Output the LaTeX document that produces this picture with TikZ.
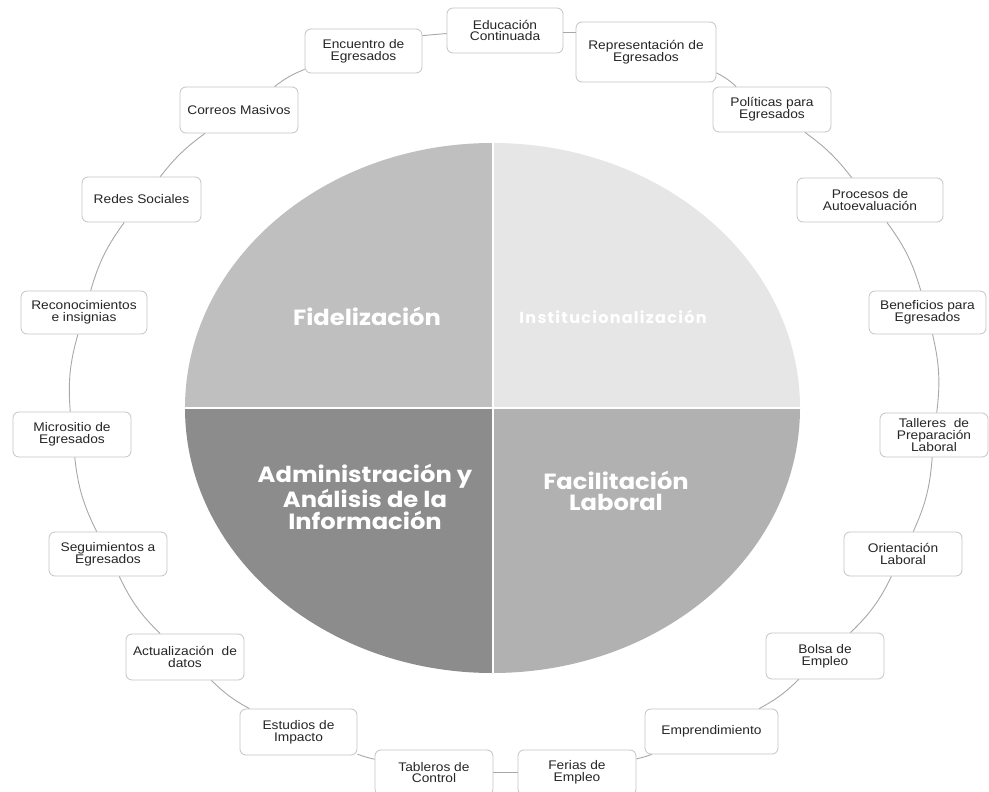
\documentclass[tikz,border=0pt]{standalone}
\usepackage{fontspec}
\setmainfont{Liberation Sans}
\newfontfamily\boxfont{Liberation Sans}[FakeStretch=1.1]
\newfontfamily\bigfont{Poppins}[FakeStretch=1.1]
\newfontfamily\bigfontls{Poppins}[LetterSpace=8]
\definecolor{qfid}{HTML}{BFBFBF}
\definecolor{qins}{HTML}{E6E6E6}
\definecolor{qadm}{HTML}{8C8C8C}
\definecolor{qfac}{HTML}{B1B1B1}
\definecolor{boxline}{HTML}{C4C4C4}
\definecolor{ringline}{HTML}{A8A8A8}
\tikzset{
  box/.style={draw=boxline, line width=0.8pt, rounded corners=6pt, fill=white,
    align=center, inner sep=1pt, text=black!85,
    font=\boxfont\fontsize{12.5}{11.7}\selectfont},
  wh/.style 2 args={minimum width=#1pt, minimum height=#2pt},
  ring/.style={draw=ringline, line width=0.9pt},
  bigtext/.style={text=white, align=center, inner sep=0pt, font=\bigfont\bfseries\fontsize{22}{21.5}\selectfont},
}
\begin{document}
\begin{tikzpicture}[x=1pt,y=-1pt]
\useasboundingbox (0,0) rectangle (989,792);
\fill[white] (0,0) rectangle (989,792);
% central ellipse quadrants
\begin{scope}
  \clip (492.5,408) ellipse [x radius=307.5pt, y radius=265pt];
  \fill[qfid] (180,140) rectangle (492.5,408);
  \fill[qins] (492.5,140) rectangle (805,408);
  \fill[qadm] (180,408) rectangle (492.5,676);
  \fill[qfac] (492.5,408) rectangle (805,676);
  \draw[white, line width=2pt] (492.5,140) -- (492.5,676);
  \draw[white, line width=2pt] (180,408) -- (805,408);
\end{scope}
\node[bigtext] (fid) at (367,316) {Fidelización};
\node[text=white, inner sep=0pt, font=\bigfontls\bfseries\fontsize{16}{16}\selectfont] (ins) at (613,317) {Institucionalización};
\node[bigtext] (adm) at (365,497) {Administración y\\Análisis de la\\Información};
\node[bigtext] (fac) at (616,491) {Facilitación\\Laboral};
% outer boxes
\node[box, wh={116}{45}] (edu) at (505,30.5) {Educación\\Continuada};
\node[box, wh={140}{60}] (rep) at (646,52) {Representación de\\Egresados};
\node[box, wh={118}{45}] (pol) at (772,109.5) {Políticas para\\Egresados};
\node[box, wh={146}{44}] (pro) at (870,200) {Procesos de\\Autoevaluación};
\node[box, wh={117}{43}] (ben) at (927.5,312.5) {Beneficios para\\Egresados};
\node[box, wh={108}{44}, font=\boxfont\fontsize{12.5}{12.3}\selectfont] (tal) at (934,435) {Talleres\ \ de\\Preparación\\Laboral};
\node[box, wh={118}{44}] (ori) at (903,554) {Orientación\\Laboral};
\node[box, wh={118}{46}] (bol) at (825,656) {Bolsa de\\Empleo};
\node[box, wh={133}{45}] (emp) at (711.5,731.5) {Emprendimiento};
\node[box, wh={118}{45}] (fer) at (577,772.5) {Ferias de\\Empleo};
\node[box, wh={118}{45}] (tab) at (434,772.5) {Tableros de\\Control};
\node[box, wh={117}{46}] (est) at (298.5,732) {Estudios de\\Impacto};
\node[box, wh={118}{46}] (act) at (185,657) {Actualización\ \ de\\datos};
\node[box, wh={118}{44}] (seg) at (108,554) {Seguimientos a\\Egresados};
\node[box, wh={118}{45}] (mic) at (72,434.5) {Micrositio de\\Egresados};
\node[box, wh={126}{43}] (rec) at (84,312.5) {Reconocimientos\\e insignias};
\node[box, wh={119}{45}] (red) at (141.5,199.5) {Redes Sociales};
\node[box, wh={118}{46}] (cor) at (239,110) {Correos Masivos};
\node[box, wh={117}{44}] (enc) at (363.5,51) {Encuentro de\\Egresados};
% ring connectors
\draw[ring] ([yshift=-2pt]edu.east) -- ([yshift=-2pt]edu.east -| rep.west);
\draw[ring] (rep) to[bend left=8] (pol);
\draw[ring] (pol) to[bend left=8] (pro);
\draw[ring] (pro) to[bend left=10] (ben);
\draw[ring] (ben) to[bend left=10] (tal);
\draw[ring] (tal) to[bend left=10] (ori);
\draw[ring] (ori) to[bend left=10] (bol);
\draw[ring] (bol) to[bend left=8] (emp);
\draw[ring] (emp) to[bend left=4] (fer);
\draw[ring] (fer) -- (tab);
\draw[ring] (tab) to[bend left=4] (est);
\draw[ring] (est) to[bend left=8] (act);
\draw[ring] (act) to[bend left=10] (seg);
\draw[ring] (seg) to[bend left=10] (mic);
\draw[ring] (mic) to[bend left=10] (rec);
\draw[ring] (rec) to[bend left=10] (red);
\draw[ring] (red) to[bend left=8] (cor);
\draw[ring] (cor) to[bend left=8] (enc);
\draw[ring] ([yshift=-7pt]enc.north east) -- ([yshift=-3pt]edu.west);
\end{tikzpicture}
\end{document}
